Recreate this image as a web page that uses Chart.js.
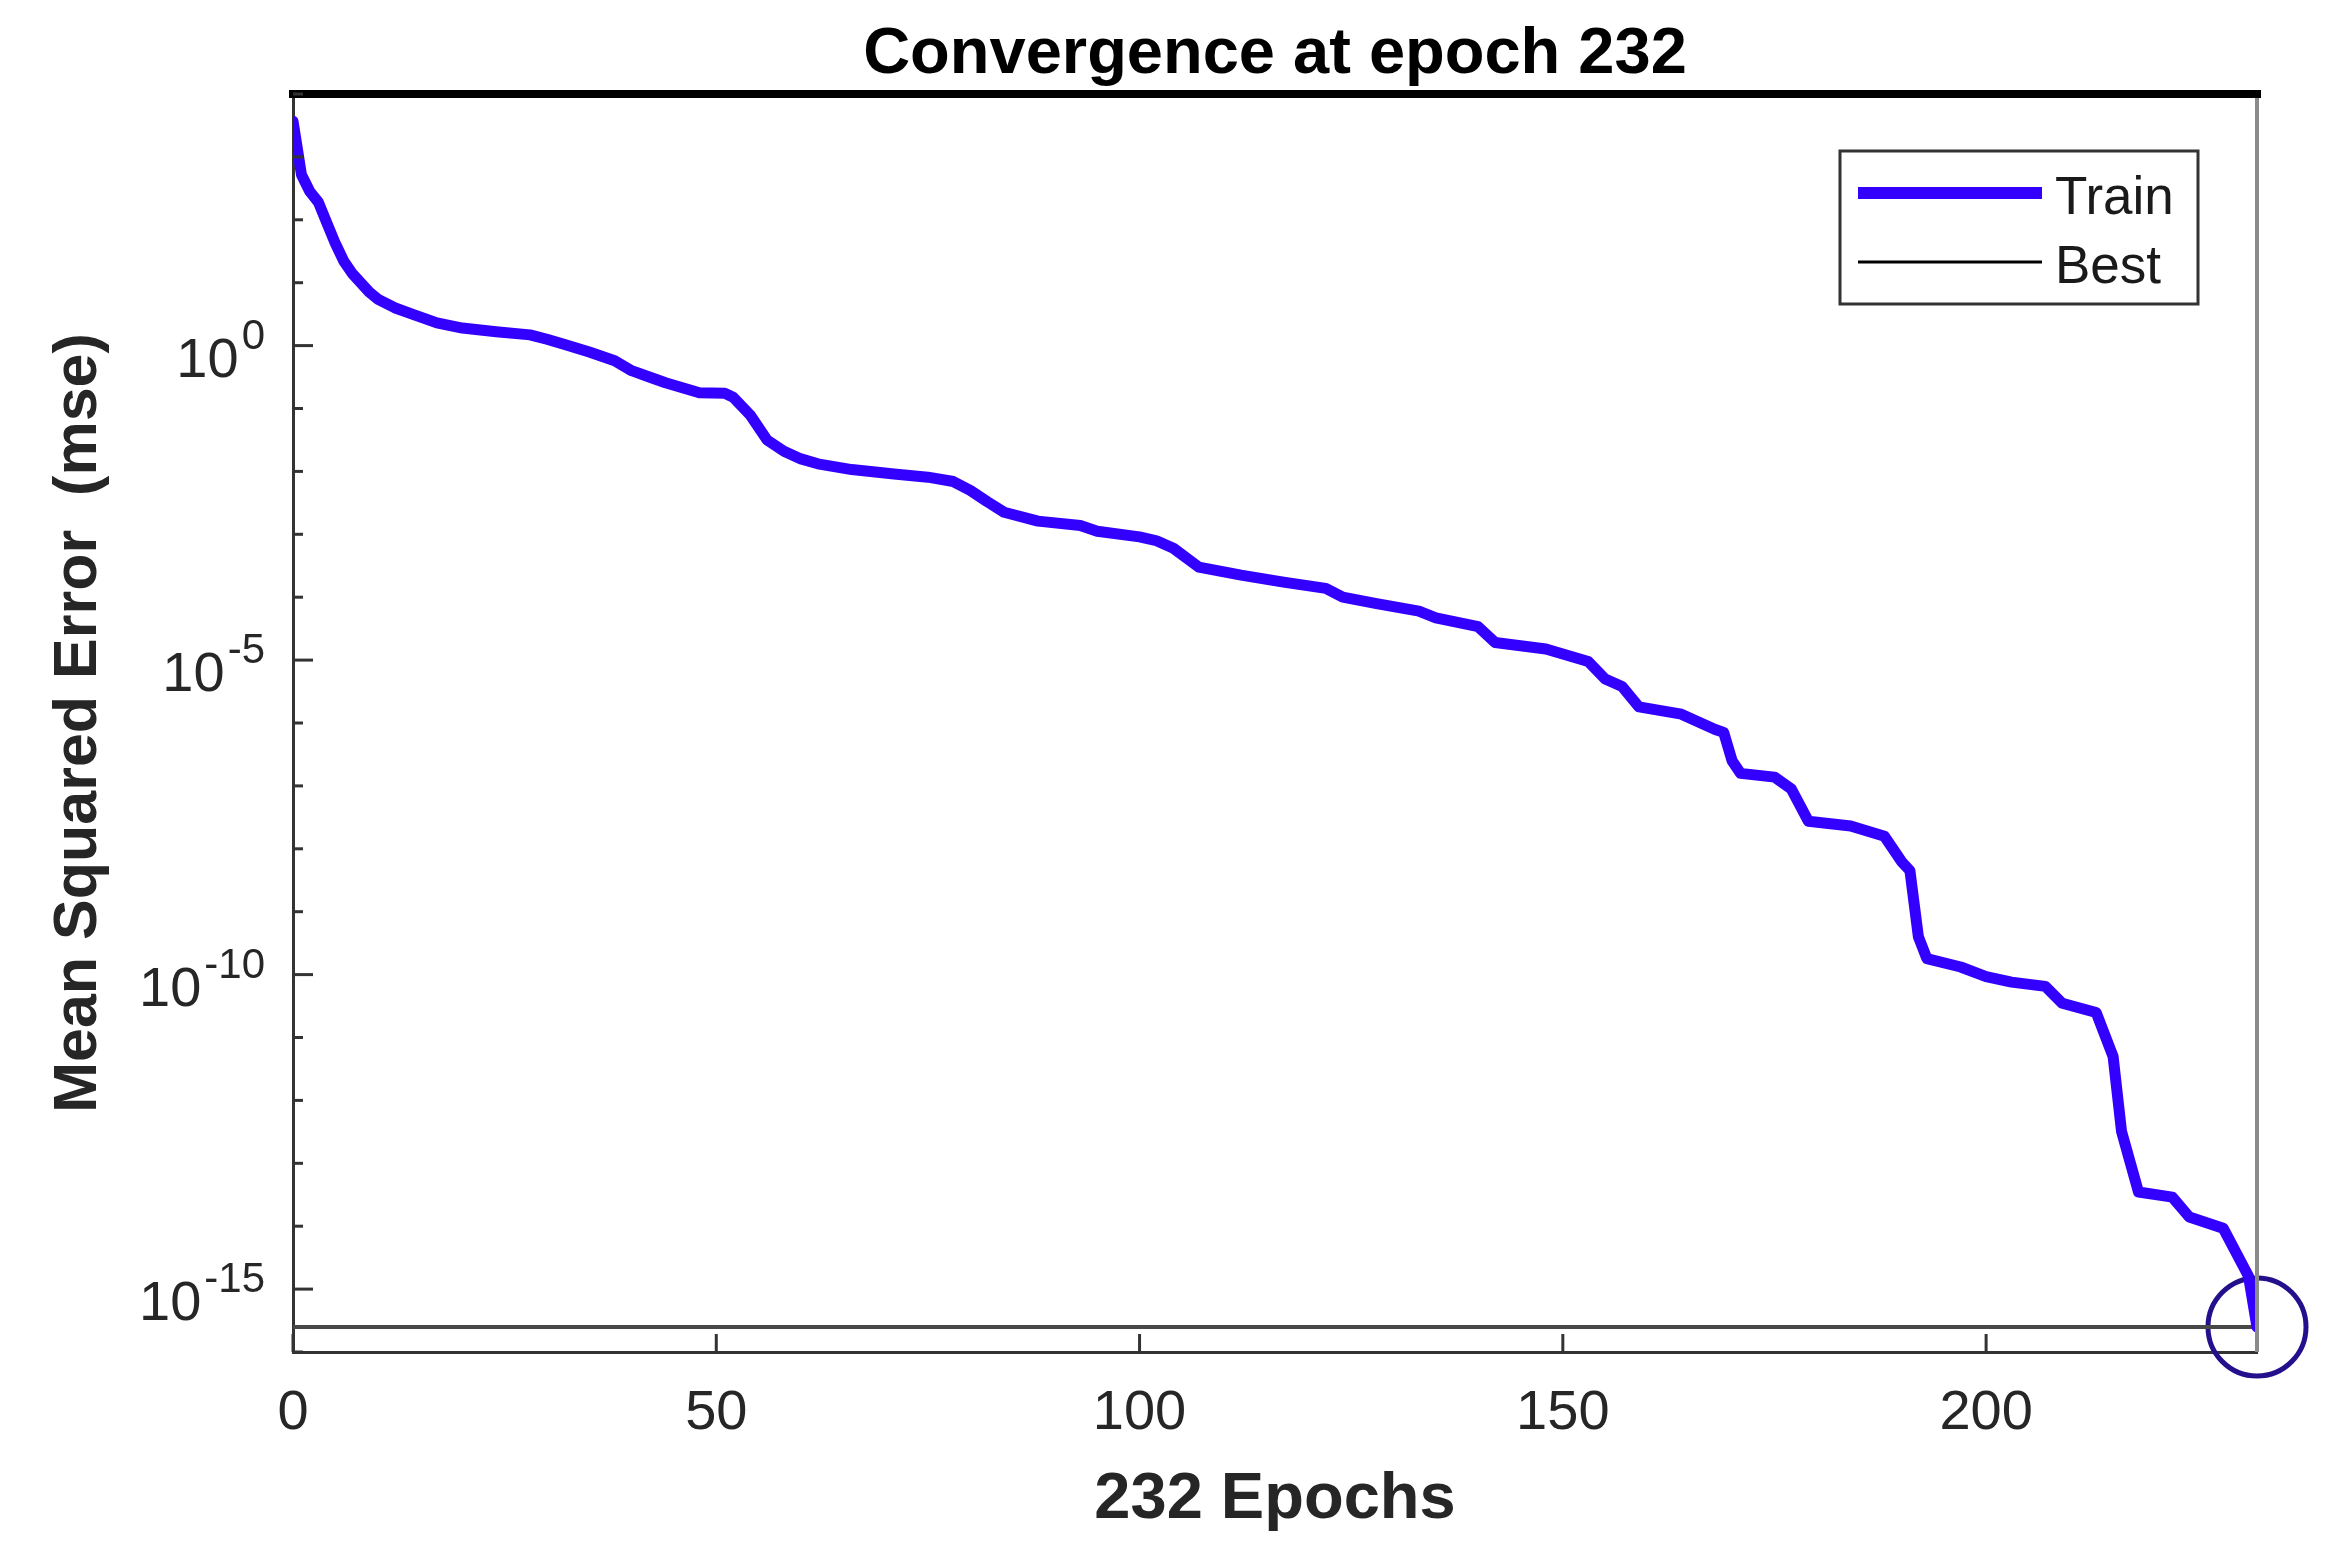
<!DOCTYPE html>
<html>
<head>
<meta charset="utf-8">
<title>Convergence at epoch 232</title>
<script src="https://cdn.jsdelivr.net/npm/chart.js@4.4.1/dist/chart.umd.min.js"></script>
<style>
  html, body { margin: 0; padding: 0; background: #fff; }
  #wrap { width: 2341px; height: 1561px; }
</style>
</head>
<body>
<div id="wrap"><canvas id="perfChart"></canvas></div>
<script>
// 训练误差（从图上读取的点）
const epochs = [0, 1, 2, 3, 4, 5, 6, 7, 8, 9, 10, 12, 14, 17, 20, 24, 28, 30, 32, 35, 38,
    40, 42, 44, 46, 48, 51, 52, 54, 56, 58, 60, 62, 66, 71, 75, 78, 80, 82, 84, 88,
    93, 95, 100, 102, 104, 107, 112, 117, 122, 124, 128, 133, 135, 140, 142, 148, 153, 155, 157, 159,
    164, 168, 169, 170, 171, 175, 177, 179, 184, 188, 190, 191, 192, 193, 197, 200, 203, 207, 209, 213,
    215, 216, 218, 222, 224, 228, 231, 232];
const trainMse = [3.7e3, 5.2e2, 2.8e2, 1.9e2, 8.9e1, 4.2e1, 2.2e1, 1.4e1, 1.0e1, 7.1, 5.5,
    4.0, 3.2, 2.3, 1.9, 1.66, 1.48, 1.26, 1.05, 0.79, 0.575,
    0.40, 0.32, 0.257, 0.214, 0.178, 0.174, 0.151, 0.079, 0.0316, 0.0209,
    0.0158, 0.0132, 0.0107, 9.1e-3, 8.1e-3, 6.9e-3, 5.0e-3, 3.3e-3, 2.24e-3, 1.62e-3,
    1.38e-3, 1.12e-3, 9.1e-4, 7.9e-4, 6.0e-4, 3.0e-4, 2.24e-4, 1.74e-4, 1.38e-4, 1.0e-4,
    7.9e-5, 6.0e-5, 4.7e-5, 3.4e-5, 1.9e-5, 1.5e-5, 9.5e-6, 5.0e-6, 3.8e-6, 1.8e-6,
    1.38e-6, 7.9e-7, 7.1e-7, 2.5e-7, 1.58e-7, 1.38e-7, 8.9e-8, 2.75e-8, 2.3e-8, 1.58e-8,
    6.3e-9, 4.5e-9, 4.0e-10, 1.8e-10, 1.32e-10, 9.3e-11, 7.6e-11, 6.5e-11, 3.5e-11, 2.5e-11,
    5.0e-12, 3.2e-13, 3.5e-14, 2.9e-14, 1.4e-14, 9.3e-15, 1.6e-15, 2.5e-16];

// 最佳值
const bestEpoch = 232;
const bestMse = 2.5e-16;

// 坐标轴刻度
const xTicks = [0, 50, 100, 150, 200];
const yDecades = [4, 3, 2, 1, 0, -1, -2, -3, -4, -5, -6, -7, -8, -9, -10, -11, -12, -13, -14, -15, -16];
const yLabelExps = [0, -5, -10, -15];

const chartTitle = 'Convergence at epoch 232';

const FONT = '"Liberation Sans", Arial, Helvetica, sans-serif';
Chart.defaults.font.family = FONT;

// 标题（以绘图区为中心）
const titlePlugin = {
    id: 'areaTitle',
    afterDraw(chart) {
        const ctx = chart.ctx;
        const a = chart.chartArea;
        ctx.save();
        ctx.fillStyle = '#000';
        ctx.font = 'bold 65px ' + FONT;
        ctx.textAlign = 'center';
        ctx.textBaseline = 'alphabetic';
        ctx.fillText(chartTitle, (a.left + a.right) / 2, a.top - 21);
        ctx.restore();
    }
};

// y轴标签 10^n（上标）
const yLabelPlugin = {
    id: 'yLabels',
    afterDraw(chart) {
        const ctx = chart.ctx;
        const y = chart.scales.y;
        const right = chart.chartArea.left - 28;
        ctx.save();
        ctx.fillStyle = '#262626';
        ctx.textAlign = 'right';
        ctx.textBaseline = 'alphabetic';
        yLabelExps.forEach(e => {
            const py = y.getPixelForValue(Math.pow(10, e));
            const sup = String(e);
            ctx.font = '42px ' + FONT;
            const w = ctx.measureText(sup).width;
            ctx.fillText(sup, right, py + 3);
            ctx.font = '56px ' + FONT;
            ctx.fillText('10', right - w - 3, py + 31);
        });
        ctx.restore();
    }
};

// 边框和向内的刻度线
const framePlugin = {
    id: 'frame',
    afterDatasetsDraw(chart) {
        const ctx = chart.ctx;
        const a = chart.chartArea;
        const x = chart.scales.x, y = chart.scales.y;
        ctx.save();
        // 上边框
        ctx.strokeStyle = '#000';
        ctx.lineWidth = 8;
        ctx.beginPath();
        ctx.moveTo(a.left - 4, a.top);
        ctx.lineTo(a.right + 4, a.top);
        ctx.stroke();
        // 右边框
        ctx.strokeStyle = '#8a8a8a';
        ctx.lineWidth = 4;
        ctx.beginPath();
        ctx.moveTo(a.right, a.top + 4);
        ctx.lineTo(a.right, a.bottom);
        ctx.stroke();
        // 刻度
        ctx.strokeStyle = '#333';
        ctx.lineWidth = 3;
        y.ticks.forEach(t => {
            const py = y.getPixelForValue(t.value);
            const e = Math.round(Math.log10(t.value));
            const len = yLabelExps.includes(e) ? 20 : 10;
            ctx.beginPath();
            ctx.moveTo(a.left, py);
            ctx.lineTo(a.left + len, py);
            ctx.stroke();
        });
        x.ticks.forEach(t => {
            const px = x.getPixelForValue(t.value);
            ctx.beginPath();
            ctx.moveTo(px, a.bottom);
            ctx.lineTo(px, a.bottom - 18);
            ctx.stroke();
        });
        ctx.restore();
    }
};

// 图例（带边框，在图内右上角）
const legendPlugin = {
    id: 'boxLegend',
    afterDraw(chart) {
        const ctx = chart.ctx;
        const a = chart.chartArea;
        const bx = a.right - 417, by = a.top + 57, bw = 358, bh = 153;
        const items = chart.data.datasets.filter(d => d.legendWidth);
        ctx.save();
        ctx.fillStyle = '#fff';
        ctx.fillRect(bx, by, bw, bh);
        ctx.strokeStyle = '#333';
        ctx.lineWidth = 3;
        ctx.strokeRect(bx, by, bw, bh);
        ctx.font = '53px ' + FONT;
        ctx.textAlign = 'left';
        ctx.textBaseline = 'alphabetic';
        items.forEach((d, i) => {
            const ly = by + 42 + i * 69;
            ctx.strokeStyle = d.legendColor;
            ctx.lineWidth = d.legendWidth;
            ctx.beginPath();
            ctx.moveTo(bx + 18, ly);
            ctx.lineTo(bx + 202, ly);
            ctx.stroke();
            ctx.fillStyle = '#1a1a1a';
            ctx.fillText(d.label, bx + 215, ly + 21);
        });
        ctx.restore();
    }
};

const ctx = document.getElementById('perfChart').getContext('2d');
const perfChart = new Chart(ctx, {
    type: 'line',
    data: {
        datasets: [{
            label: 'Train',
            data: epochs.map((e, i) => ({ x: e, y: trainMse[i] })),
            borderColor: '#3300ff',
            borderWidth: 11,
            borderJoinStyle: 'round',
            borderCapStyle: 'round',
            pointRadius: 0,
            tension: 0,
            legendColor: '#3300ff',
            legendWidth: 12
        }, {
            label: 'Best',
            data: [{ x: 0, y: bestMse }, { x: bestEpoch, y: bestMse }],
            borderColor: '#484848',
            borderWidth: 4,
            pointRadius: 0,
            legendColor: '#000',
            legendWidth: 3
        }, {
            label: 'BestPoint',
            data: [{ x: bestEpoch, y: bestMse }],
            showLine: false,
            pointRadius: 49,
            pointBorderWidth: 5,
            pointBorderColor: '#24108c',
            pointBackgroundColor: 'rgba(0,0,0,0)',
            clip: false
        }]
    },
    options: {
        responsive: true,
        maintainAspectRatio: false,
        devicePixelRatio: 1,
        animation: false,
        layout: { padding: { top: 94, right: 84, bottom: 0, left: 0 } },
        plugins: {
            legend: { display: false },
            tooltip: { enabled: false },
            title: { display: false }
        },
        scales: {
            x: {
                type: 'linear',
                min: 0,
                max: 232,
                afterBuildTicks: s => { s.ticks = xTicks.map(v => ({ value: v })); },
                afterFit: s => { s.height = 209; },
                grid: { display: false, drawTicks: false },
                border: { display: true, color: '#333', width: 3 },
                ticks: {
                    color: '#262626',
                    font: { size: 56 },
                    padding: 28,
                    maxRotation: 0,
                    autoSkip: false
                },
                title: {
                    display: true,
                    text: '232 Epochs',
                    color: '#262626',
                    font: { size: 65, weight: 'bold', lineHeight: 1.2 },
                    padding: { top: 0, bottom: 22 }
                }
            },
            y: {
                type: 'logarithmic',
                min: 1e-16,
                max: 1e4,
                afterBuildTicks: s => { s.ticks = yDecades.map(e => ({ value: Math.pow(10, e) })); },
                afterFit: s => { s.width = 293; },
                grid: { display: false, drawTicks: false },
                border: { display: true, color: '#333', width: 3 },
                ticks: { display: false },
                title: {
                    display: true,
                    text: 'Mean Squared Error  (mse)',
                    color: '#262626',
                    font: { size: 61, weight: 'bold', lineHeight: 1.2 },
                    padding: { top: 43, bottom: 0 }
                }
            }
        }
    },
    plugins: [framePlugin, yLabelPlugin, legendPlugin, titlePlugin]
});
</script>
</body>
</html>
